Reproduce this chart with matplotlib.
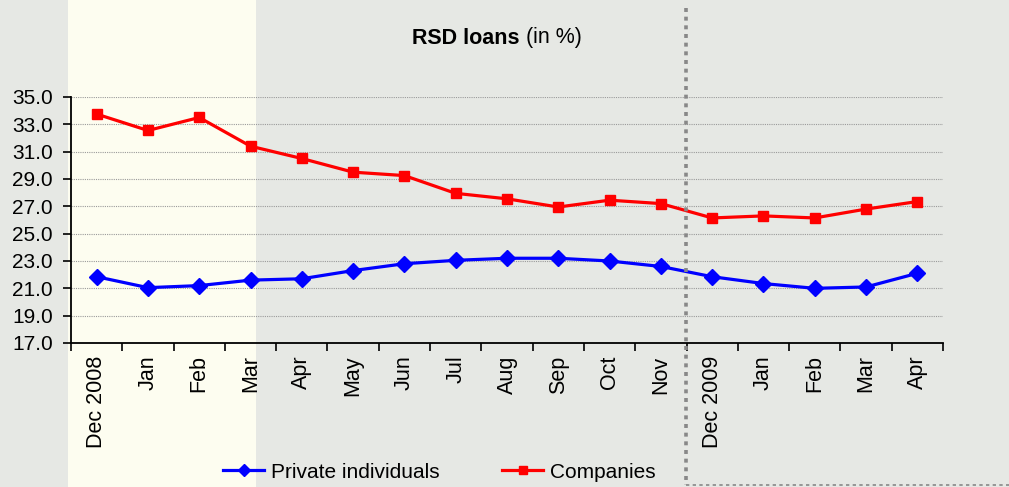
import matplotlib
matplotlib.use("Agg")
import matplotlib.pyplot as plt
from matplotlib.lines import Line2D
from matplotlib.patches import Rectangle
import numpy as np

plt.rcParams['font.family'] = ['Liberation Sans', 'DejaVu Sans']

months = ["Dec 2008", "Jan", "Feb", "Mar", "Apr", "May", "Jun", "Jul", "Aug",
          "Sep", "Oct", "Nov", "Dec 2009", "Jan", "Feb", "Mar", "Apr"]
private_individuals = [21.85, 21.05, 21.2, 21.6, 21.7, 22.3, 22.8, 23.05, 23.2,
                       23.2, 23.0, 22.6, 21.85, 21.35, 21.0, 21.1, 22.1]
companies = [33.75, 32.55, 33.5, 31.4, 30.5, 29.5, 29.25, 27.95, 27.55,
             26.95, 27.45, 27.2, 26.15, 26.3, 26.15, 26.8, 27.35]
y_ticks = np.arange(17.0, 35.1, 2.0)

W, H = 1009, 487
fig = plt.figure(figsize=(W / 100, H / 100), dpi=100)
fig.patch.set_facecolor("#e6e8e4")

# cream panel behind the first quarter of the chart
fig.patches.append(Rectangle((68 / W, 0), (256 - 68) / W, 1, transform=fig.transFigure,
                             facecolor="#fdfdf0", edgecolor="none", zorder=-1))

ax = fig.add_axes([71 / W, (H - 343) / H, (943 - 71) / W, (343 - 97) / H])
ax.set_facecolor("none")

x = np.arange(len(months))
ax.plot(x, private_individuals, color="#0000ff", lw=2.3, marker="D", ms=7.8,
        label="Private individuals", zorder=3)
ax.plot(x, companies, color="#ff0000", lw=2.3, marker="s", ms=7.8,
        label="Companies", zorder=3)

ax.set_xlim(-0.5, len(months) - 0.5)
ax.set_ylim(17, 35)
ax.set_yticks(y_ticks)
ax.set_yticklabels([f"{v:.1f}" for v in y_ticks], fontsize=15)
ax.set_xticks(x)
ax.set_xticklabels(months, rotation=90, fontsize=15.5)
ax.set_xticks(np.arange(-0.5, len(months), 1.0), minor=True)
ax.tick_params(axis="x", which="major", length=0, pad=9)
ax.tick_params(axis="x", which="minor", length=6, width=1.2, direction="out")
ax.tick_params(axis="y", length=6, width=1.2, direction="out", pad=7)

for s in ["top", "right"]:
    ax.spines[s].set_visible(False)
for s in ["left", "bottom"]:
    ax.spines[s].set_linewidth(1.3)

ax.yaxis.grid(True, color="#9a9a9a", lw=0.8, ls=(0, (1, 1)))
ax.set_axisbelow(True)

# dotted frame separating the 2009 period
fig.lines.append(Line2D([686 / W, 686 / W], [(H - 8) / H, (H - 485) / H],
                        transform=fig.transFigure, color="#888888", lw=2.6,
                        ls=(0, (1.1, 1.3)), zorder=2))
fig.lines.append(Line2D([686 / W, 1.0], [(H - 485) / H, (H - 485) / H],
                        transform=fig.transFigure, color="#888888", lw=1.2,
                        ls=(0, (2, 2)), zorder=2))

# title: bold part followed by a regular part
t1 = fig.text(0, (H - 38) / H, "RSD loans ", fontsize=15.5, fontweight="bold",
              ha="left", va="center")
t2 = fig.text(0, (H - 38) / H, "(in %)", fontsize=15.5, ha="left", va="center")
fig.canvas.draw()
r = fig.canvas.get_renderer()
w1 = t1.get_window_extent(r).width
w2 = t2.get_window_extent(r).width
x0 = 497 - (w1 + w2) / 2
t1.set_x(x0 / W)
t2.set_x((x0 + w1) / W)

fig.legend(loc="center", bbox_to_anchor=(439 / W, (H - 472) / H), ncol=2,
           frameon=False, fontsize=15, handlelength=2.0, handletextpad=0.3,
           columnspacing=3.0, markerscale=0.8)

fig.savefig("out.png", dpi=100, facecolor=fig.get_facecolor())
